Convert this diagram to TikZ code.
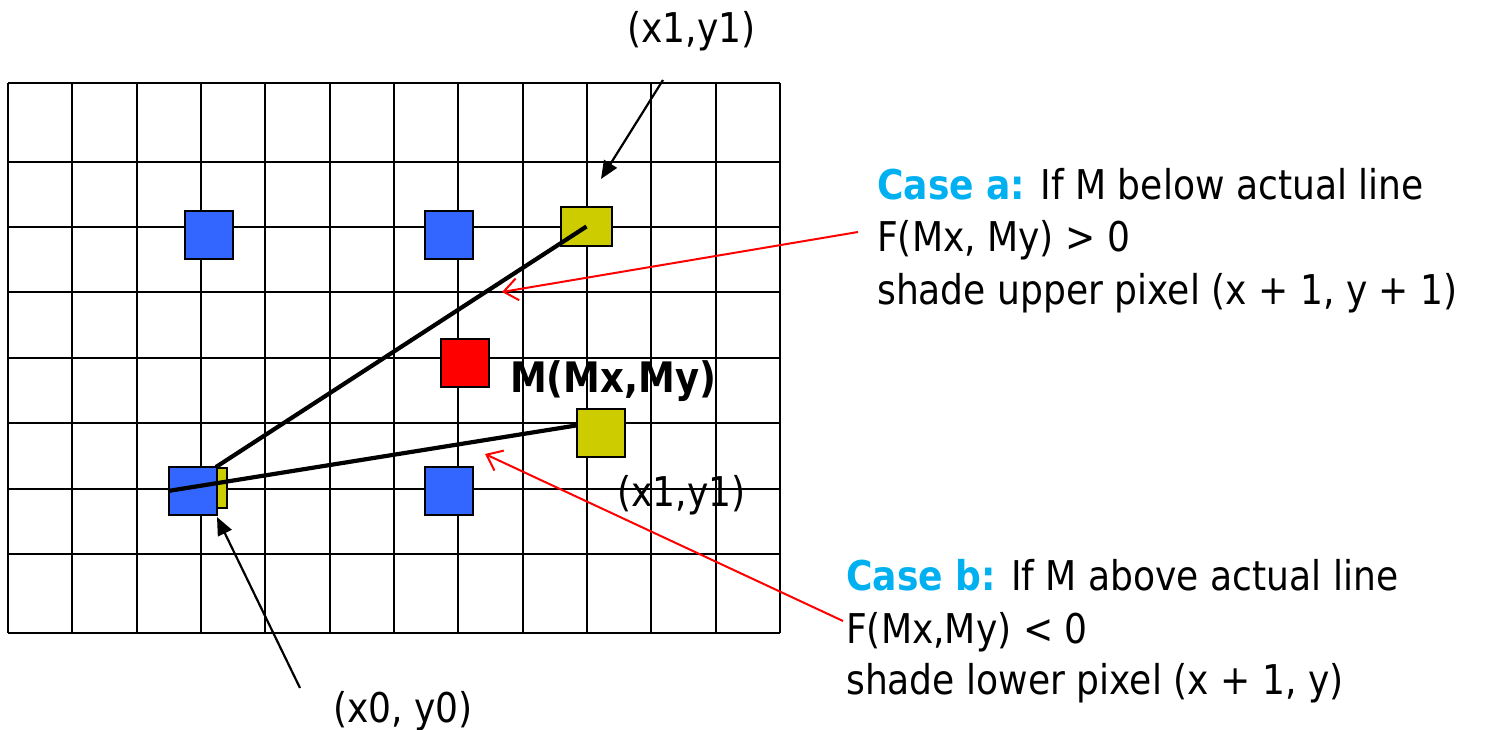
\documentclass[tikz,border=0pt]{standalone}
\usepackage{fontspec}
\setmainfont{DejaVu Sans}[FakeStretch=0.88]
\usetikzlibrary{arrows.meta,calc}
\definecolor{pxblue}{HTML}{3366FF}
\definecolor{pxyellow}{HTML}{CCCC00}
\definecolor{pxred}{HTML}{FF0000}
\definecolor{casecyan}{HTML}{00B0F0}
\tikzset{
  gridline/.style={line width=2pt, black},
  pix/.style={draw=black, line width=2pt, inner sep=0pt, minimum width=48pt, minimum height=48pt},
  bluepix/.style={pix, fill=pxblue},
  yellowpix/.style={pix, fill=pxyellow},
  redpix/.style={pix, fill=pxred},
  thickline/.style={line width=4.2pt, black},
  blackarrow/.style={line width=2.2pt, black, -{Triangle[length=18pt,width=15pt]}},
  redarrow/.style={line width=2pt, pxred, -{Straight Barb[length=14pt,width=22pt,line width=2pt]}},
  lbl/.style={inner sep=0pt, anchor=base west, font=\fontsize{41}{52}\selectfont},
}
\begin{document}
\begin{tikzpicture}[x=1pt,y=-1pt]
\useasboundingbox (0,0) rectangle (1489,730);
% grid
\foreach \k in {0,...,12} {
  \draw[gridline] ({8+\k*64.333},83) -- ({8+\k*64.333},633);
}
\foreach \yy in {83,162,227,292,358,423,489,554,633} {
  \draw[gridline] (8,\yy) -- (780,\yy);
}
% pixels
\node[bluepix] (b1) at (209,235) {};
\node[bluepix] (b2) at (449,235) {};
\node[yellowpix, minimum width=51pt, minimum height=39pt] (ytop) at (586.5,226.5) {};
\node[redpix] (m) at (465,362.5) {};
\node[yellowpix] (y2) at (601,432.5) {};
\node[bluepix] (b3) at (449,491) {};
\node[yellowpix, minimum width=10pt, minimum height=40pt] (ysmall) at (222,488) {};
\node[bluepix] (b4) at (193,491) {};
% lines
\draw[thickline] (ysmall.north west) -- (ytop.center);
\draw[thickline] (b4.west) -- ($(y2.north west)!0.36!(y2.south west)$);
% labels
\node[lbl] (l1top) at (627,43) {(x1,y1)};
\node[lbl, font=\fontsize{42}{52}\selectfont\bfseries] (mlabel) at (510,392) {M(Mx,My)};
\node[lbl] (l1low) at (617,506) {(x1,y1)};
\node[lbl] (l0) at (333,722) {(x0, y0)};
\node[lbl] (a1) at (877,200) {\textcolor{casecyan}{\bfseries Case a:} If M below actual line};
\node[lbl] (a2) at (877,252) {F(Mx, My) > 0};
\node[lbl] (a3) at (877,304) {shade upper pixel (x + 1, y + 1)};
\node[lbl] (c1) at (846,590) {\textcolor{casecyan}{\bfseries Case b:} If M above actual line};
\node[lbl] (c2) at (846,643) {F(Mx,My) < 0};
\node[lbl] (c3) at (846,694) {shade lower pixel (x + 1, y)};
% arrows
\coordinate (t1) at (663,80);
\coordinate (h1) at (601,179);
\draw[blackarrow] (t1) -- (h1);
\coordinate (t0) at (300,688);
\coordinate (h0) at (217,517);
\draw[blackarrow] (t0) -- (h0);
\coordinate (ra) at (858,232);
\coordinate (rah) at (502,292);
\draw[redarrow] (ra) -- (rah);
\coordinate (rb) at (843,621);
\coordinate (rbh) at (485,454);
\draw[redarrow] (rb) -- (rbh);
\end{tikzpicture}
\end{document}
